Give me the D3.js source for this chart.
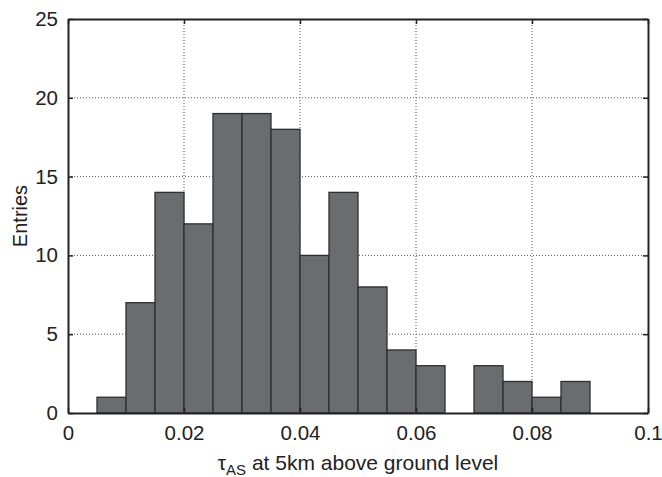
<!DOCTYPE html>
<html>
<head>
<meta charset="utf-8">
<script src="https://cdn.jsdelivr.net/npm/d3@7"></script>
<style>
  html, body { margin: 0; padding: 0; background: #fff; }
  svg text { font-family: "Liberation Sans", Arial, sans-serif; fill: #222; }
</style>
</head>
<body>
<svg id="chart" width="662" height="477"></svg>
<script>
// Histogram bin edges (lower edge of each 0.005-wide bin) and entry counts
const binStarts = [0.005, 0.010, 0.015, 0.020, 0.025, 0.030, 0.035, 0.040, 0.045,
                   0.050, 0.055, 0.060, 0.065, 0.070, 0.075, 0.080, 0.085];
const counts    = [1, 7, 14, 12, 19, 19, 18, 10, 14, 8, 4, 3, 0, 3, 2, 1, 2];
const binWidth = 0.005;

const xTicks = [0, 0.02, 0.04, 0.06, 0.08, 0.1];
const xTickLabels = ["0", "0.02", "0.04", "0.06", "0.08", "0.1"];
const yTicks = [0, 5, 10, 15, 20, 25];

const margin = { left: 68, right: 14, top: 19, bottom: 64 };
const W = 662, H = 477;

const svg = d3.select("#chart");
const x = d3.scaleLinear().domain([0, 0.1]).range([margin.left, W - margin.right]);
const y = d3.scaleLinear().domain([0, 25]).range([H - margin.bottom, margin.top]);

// dotted grid
const grid = svg.append("g").attr("stroke", "#555").attr("stroke-width", 1)
  .attr("stroke-dasharray", "1,2");
grid.selectAll("line.gx").data(xTicks.slice(1, -1)).join("line")
  .attr("x1", d => x(d)).attr("x2", d => x(d))
  .attr("y1", y(0)).attr("y2", y(25));
grid.selectAll("line.gy").data(yTicks.slice(1, -1)).join("line")
  .attr("x1", x(0)).attr("x2", x(0.1))
  .attr("y1", d => y(d)).attr("y2", d => y(d));

// bars
const bins = binStarts.map((s, i) => ({ x0: s, x1: s + binWidth, n: counts[i] }));
svg.append("g").selectAll("rect").data(bins).join("rect")
  .attr("x", d => x(d.x0))
  .attr("width", d => x(d.x1) - x(d.x0))
  .attr("y", d => y(d.n))
  .attr("height", d => y(0) - y(d.n))
  .attr("fill", "#6b6c70")
  .attr("stroke", "#2e2e30")
  .attr("stroke-width", 1.3);

// axes (ticks pointing inward), plus mirrored top/right frame
const xAxis = d3.axisBottom(x).tickValues(xTicks)
  .tickFormat((d, i) => xTickLabels[i]).tickSizeInner(-5).tickSizeOuter(0).tickPadding(12);
const yAxis = d3.axisLeft(y).tickValues(yTicks).tickSizeInner(-5).tickSizeOuter(0).tickPadding(10);

const gx = svg.append("g").attr("transform", `translate(0,${y(0)})`).call(xAxis);
const gy = svg.append("g").attr("transform", `translate(${x(0)},0)`).call(yAxis);
const gxTop = svg.append("g").attr("transform", `translate(0,${y(25)})`)
  .call(d3.axisTop(x).tickValues(xTicks).tickSizeInner(-5).tickSizeOuter(0).tickFormat(""));
const gyRight = svg.append("g").attr("transform", `translate(${x(0.1)},0)`)
  .call(d3.axisRight(y).tickValues(yTicks).tickSizeInner(-5).tickSizeOuter(0).tickFormat(""));

[gx, gy, gxTop, gyRight].forEach(g => {
  g.attr("font-size", 20.5);
  g.select(".domain").attr("stroke", "#222").attr("stroke-width", 2);
  g.selectAll(".tick line").attr("stroke", "#222").attr("stroke-width", 1.5);
  g.selectAll(".tick text").attr("font-size", 20.5).attr("fill", "#222")
    .style("font-family", "'Liberation Sans', Arial, sans-serif");
});

// axis titles
const xt = svg.append("text")
  .attr("x", (x(0) + x(0.1)) / 2).attr("y", 470)
  .attr("text-anchor", "middle").attr("font-size", 21);
xt.append("tspan").text("τ");
xt.append("tspan").attr("font-size", 15).attr("dy", 5).text("AS");
xt.append("tspan").attr("dy", -5).text(" at 5km above ground level");

svg.append("text")
  .attr("transform", `translate(27,${(y(0) + y(25)) / 2}) rotate(-90)`)
  .attr("text-anchor", "middle").attr("font-size", 20)
  .text("Entries");
</script>
</body>
</html>
